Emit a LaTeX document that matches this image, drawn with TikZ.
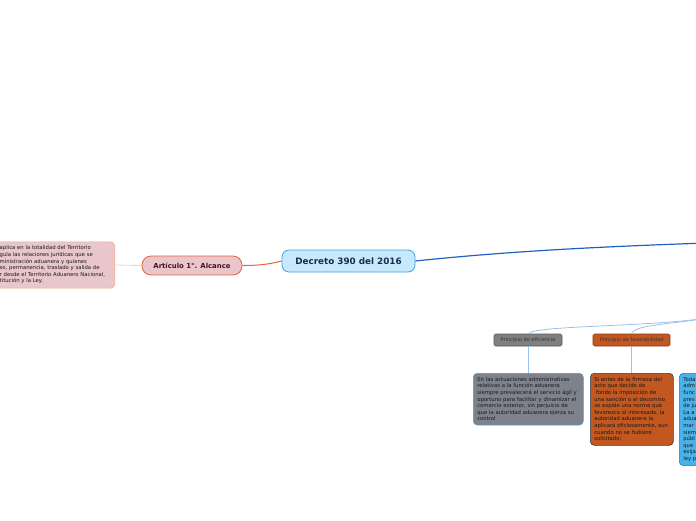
\documentclass[tikz,border=0pt]{standalone}
\usepackage{fontspec}
\setmainfont{DejaVu Sans}
\definecolor{azulclaro}{HTML}{C6EAFC}
\definecolor{azulborde}{HTML}{4A9FE0}
\definecolor{azultexto}{HTML}{1A2A50}
\definecolor{rosa}{HTML}{E8C6CB}
\definecolor{rojoborde}{HTML}{E8623D}
\definecolor{rosaborde}{HTML}{F5A88E}
\definecolor{granate}{HTML}{4A1020}
\definecolor{azullinea}{HTML}{1F5FC8}
\definecolor{ramalinea}{HTML}{9CC0EC}
\definecolor{gris}{HTML}{808080}
\definecolor{griscaja}{HTML}{7E828C}
\definecolor{grisborde}{HTML}{5A5A5A}
\definecolor{naranja}{HTML}{C2571F}
\definecolor{naranjaborde}{HTML}{8A3A12}
\definecolor{celeste}{HTML}{48B2EA}
\definecolor{celesteborde}{HTML}{2A78B8}
\tikzset{
  raiz/.style={draw=azulborde, fill=azulclaro, rounded corners=7pt, line width=0.8pt,
    minimum width=133pt, minimum height=22pt, text=azultexto,
    font=\fontsize{8.8}{10}\selectfont\bfseries},
  articulo/.style={draw=rojoborde, fill=rosa, rounded corners=9pt, line width=0.8pt,
    minimum width=100pt, minimum height=19pt, text=granate,
    font=\fontsize{6.9}{8}\selectfont\bfseries},
  titulo/.style={rounded corners=1.5pt, line width=0.6pt, minimum height=12pt,
    inner sep=1pt, text=black!80, font=\fontsize{5}{6}\selectfont},
  caja/.style={rounded corners=4pt, line width=0.6pt, anchor=north west, inner sep=4pt,
    align=left, text=black!90, font=\fontsize{5.3}{6.6}\selectfont},
}
\begin{document}
\begin{tikzpicture}[x=1pt, y=-1pt]
  \useasboundingbox (0,0) rectangle (696,520);
  \clip (0,0) rectangle (696,520);

  % Nodos principales
  \node[raiz] (decreto) at (348.5,261) {Decreto 390 del 2016};
  \node[articulo] (alcance) at (192,265.5) {Artículo 1°. Alcance};
  \node[caja, draw=rosaborde, fill=rosa, anchor=east, minimum width=119pt,
    minimum height=44pt, text width=111pt] (alcancetexto) at (115,265)
    {aplica en la totalidad del Territorio\\
     gula las relaciones jurídicas que se\\
     ministración aduanera y quienes\\
     so, permanencia, traslado y salida de\\
     r desde el Territorio Aduanero Nacional,\\
     titución y la Ley.};

  % Principios
  \node[titulo, draw=grisborde, fill=gris, minimum width=68pt] (eficiencia) at (528,340)
    {Principio de eficiencia};
  \node[titulo, draw=naranjaborde, fill=naranja, minimum width=77pt] (favorabilidad) at (631.5,340)
    {Principio de favorabilidad};
  \node[caja, draw=azulborde!70!gris, fill=griscaja, minimum width=110pt,
    minimum height=49pt, text width=102pt] (eficienciatexto) at (473,373)
    {En las actuaciones administrativas\\
     relativas a la función aduanera\\
     siempre prevalecerá el servicio ágil y\\
     oportuno para facilitar y dinamizar el\\
     comercio exterior, sin perjuicio de\\
     que la autoridad aduanera ejerza su\\
     control};
  \node[caja, draw=azulborde!40!black, fill=naranja, minimum width=83pt,
    minimum height=69pt, text width=75pt] (favorabilidadtexto) at (590,373)
    {Si antes de la firmeza del\\
     acto que decide de\\
     \ fondo la imposición de\\
     una sanción o el decomiso\\
     se expide una norma que\\
     favorezca al interesado, la\\
     autoridad aduanera la\\
     aplicará oficiosamente, aun\\
     cuando no se hubiere\\
     solicitado;};
  \node[caja, draw=celesteborde, fill=celeste, minimum width=60pt,
    minimum height=89pt, text width=52pt] (tercertexto) at (679,373)
    {Toda\\ adm\\ func\\ pres\\ de ju\\ La a\\ adua\\ mar\\ siem\\ públ\\ que\\ exija\\ ley p};

  % Puntos fuera del cuadro
  \coordinate (salida) at (720,242.5);
  \coordinate (rama) at (712,317);

  % Conectores
  \draw[rosaborde!60, line width=0.8pt] (alcancetexto.east) -- (alcance.west);
  \draw[rojoborde, line width=1pt] (alcance.east) .. controls (258,265.5) and (268,264.5) .. (decreto.west);
  \draw[azullinea, line width=1.2pt] (decreto.east) .. controls (520,250) and (620,246) .. (salida);
  \draw[ramalinea, line width=0.8pt] (rama) .. controls (660,327) and (535,325) .. (eficiencia.north);
  \draw[ramalinea, line width=0.8pt] (rama) .. controls (680,324) and (634,324) .. (favorabilidad.north);
  \draw[ramalinea, line width=0.8pt] (eficiencia.south) -- (eficienciatexto.north -| eficiencia.south);
  \draw[ramalinea, line width=0.8pt] (favorabilidad.south) -- (favorabilidadtexto.north -| favorabilidad.south);
\end{tikzpicture}
\end{document}
